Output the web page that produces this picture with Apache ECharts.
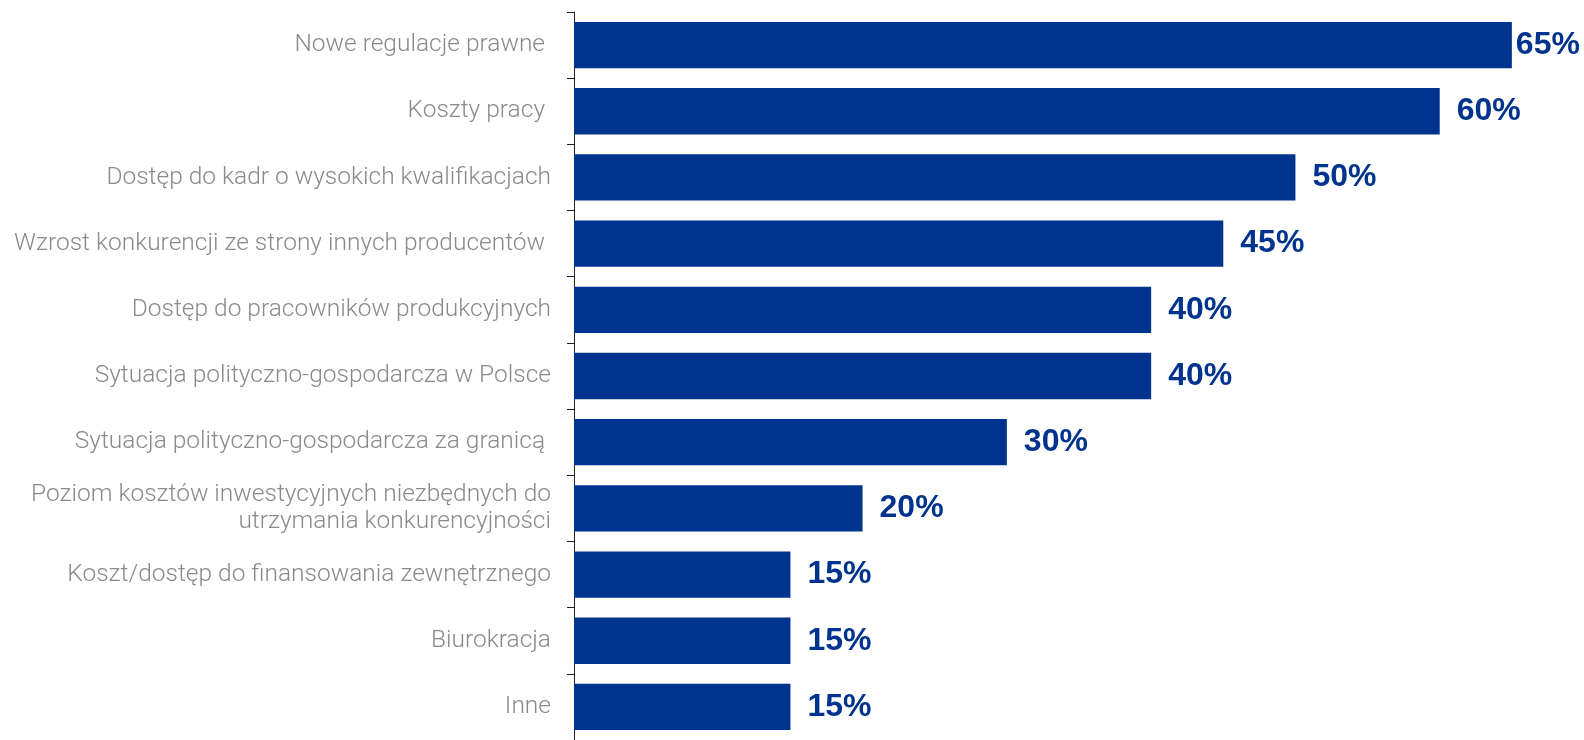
<!DOCTYPE html>
<html>
<head>
<meta charset="utf-8">
<script src="https://cdn.jsdelivr.net/npm/echarts@6/dist/echarts.min.js"></script>
<style>
html,body{margin:0;padding:0;background:#fff;}
#chart{width:1584px;height:740px;}
</style>
</head>
<body>
<div id="chart"></div>
<script>
const categories = [
  "Nowe regulacje prawne ",
  "Koszty pracy ",
  "Dostęp do kadr o wysokich kwalifikacjach",
  "Wzrost konkurencji ze strony innych producentów ",
  "Dostęp do pracowników produkcyjnych",
  "Sytuacja polityczno-gospodarcza w Polsce",
  "Sytuacja polityczno-gospodarcza za granicą ",
  "Poziom kosztów inwestycyjnych niezbędnych do\nutrzymania konkurencyjności",
  "Koszt/dostęp do finansowania zewnętrznego",
  "Biurokracja",
  "Inne"
];
const values = [65, 60, 50, 45, 40, 40, 30, 20, 15, 15, 15];

const BLUE = '#00338D';
const chart = echarts.init(document.getElementById('chart'), null, {renderer: 'canvas'});
chart.setOption({
  animation: false,
  grid: {left: 574, top: 12, right: 0, bottom: -6, containLabel: false},
  xAxis: {
    type: 'value', min: 0, max: 70, show: false
  },
  yAxis: {
    type: 'category',
    data: categories.map(c => c.indexOf('\n') >= 0
      ? {value: c, textStyle: {padding: [10, 0, 0, 0]}}
      : c),
    inverse: true,
    axisLine: {show: true, lineStyle: {color: '#222', width: 1}},
    axisTick: {show: true, length: 7, lineStyle: {color: '#222', width: 1}},
    axisLabel: {
      margin: 23,
      color: '#8a8a8a',
      fontFamily: 'Roboto',
      fontWeight: 300,
      fontSize: 24.5,
      lineHeight: 27,
      align: 'right'
    },
    splitLine: {show: false}
  },
  series: [{
    type: 'bar',
    data: values.map((v, i) => ({
      value: v,
      label: {distance: i === 0 ? 4 : 17}
    })),
    barCategoryGap: '30%',
    itemStyle: {color: BLUE},
    label: {
      show: true,
      position: 'right',
      formatter: '{c}%',
      color: BLUE,
      fontFamily: 'Liberation Sans',
      fontWeight: 'bold',
      fontSize: 32
    }
  }]
});
</script>
</body>
</html>
